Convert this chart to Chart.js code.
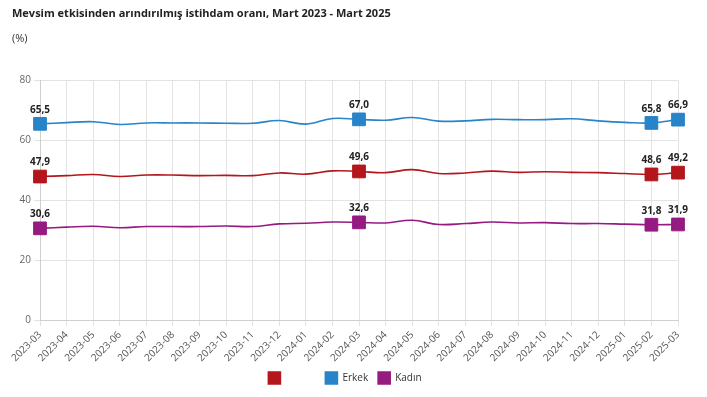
<!DOCTYPE html>
<html lang="tr">
<head>
<meta charset="utf-8">
<title>Mevsim etkisinden arındırılmış istihdam oranı</title>
<script src="https://cdn.jsdelivr.net/npm/chart.js@4.4.1/dist/chart.umd.min.js"></script>
<style>
  html, body { margin: 0; padding: 0; background: #fff; }
  #wrap { width: 707px; height: 397px; position: relative; }
</style>
</head>
<body>
<div id="wrap"><canvas id="istihdamChart"></canvas></div>
<script>
// ===== DATA =====
const months = [
  "2023-03", "2023-04", "2023-05", "2023-06", "2023-07", "2023-08", "2023-09",
  "2023-10", "2023-11", "2023-12", "2024-01", "2024-02", "2024-03", "2024-04",
  "2024-05", "2024-06", "2024-07", "2024-08", "2024-09", "2024-10", "2024-11",
  "2024-12", "2025-01", "2025-02", "2025-03"
];
const toplam = [47.9, 48.2, 48.6, 47.9, 48.4, 48.4, 48.2, 48.3, 48.2, 49.1, 48.7, 49.8, 49.6,
                49.2, 50.2, 48.9, 49.1, 49.7, 49.3, 49.5, 49.3, 49.2, 48.9, 48.6, 49.2];
const erkek = [65.5, 65.9, 66.2, 65.3, 65.8, 65.8, 65.8, 65.7, 65.7, 66.6, 65.4, 67.3, 67.0,
               66.7, 67.6, 66.4, 66.5, 67.0, 66.9, 66.9, 67.2, 66.5, 66.0, 65.8, 66.9];
const kadin = [30.6, 31.0, 31.3, 30.8, 31.2, 31.2, 31.2, 31.4, 31.2, 32.1, 32.3, 32.7, 32.6,
               32.4, 33.3, 31.9, 32.2, 32.7, 32.4, 32.5, 32.2, 32.2, 32.0, 31.8, 31.9];
const markedIdx = [0, 12, 23, 24];
const yTicks = [0, 20, 40, 60, 80];

const FONT = "'Open Sans', 'Noto Sans', sans-serif";

function fmt(v) {
  return v.toFixed(1).replace(".", ",");
}

function makeSet(label, data, color) {
  return {
    label: label,
    data: data,
    borderColor: color,
    backgroundColor: color,
    borderWidth: 1.6,
    tension: 0.4,
    pointStyle: "rect",
    pointRadius: ctx => markedIdx.includes(ctx.dataIndex) ? 9 : 0,
    pointHoverRadius: ctx => markedIdx.includes(ctx.dataIndex) ? 9 : 0,
    pointBorderWidth: 1,
    pointBorderColor: color,
    pointBackgroundColor: color
  };
}

// draws the value above each marked point
const valueLabels = {
  id: "valueLabels",
  afterDatasetsDraw(chart) {
    const c = chart.ctx;
    c.save();
    c.font = "bold 10px " + FONT;
    c.fillStyle = "#222";
    c.textAlign = "center";
    c.textBaseline = "bottom";
    chart.data.datasets.forEach((ds, di) => {
      const meta = chart.getDatasetMeta(di);
      markedIdx.forEach(i => {
        const pt = meta.data[i];
        if (!pt) return;
        c.fillText(fmt(ds.data[i]), pt.x, pt.y - 9);
      });
    });
    c.restore();
  }
};

const ctx = document.getElementById("istihdamChart");

new Chart(ctx, {
  type: "line",
  data: {
    labels: months,
    datasets: [
      makeSet("Toplam", toplam, "#B3161B"),
      makeSet("Erkek", erkek, "#2884C8"),
      makeSet("Kadın", kadin, "#951B81")
    ]
  },
  options: {
    responsive: true,
    maintainAspectRatio: false,
    animation: false,
    layout: { padding: { left: 12, right: 29, top: 7, bottom: 3 } },
    plugins: {
      title: {
        display: true,
        text: "Mevsim etkisinden arındırılmış istihdam oranı, Mart 2023 - Mart 2025",
        align: "start",
        color: "#222",
        font: { family: FONT, size: 11, weight: "bold" },
        padding: { top: 0, bottom: 12 }
      },
      subtitle: {
        display: true,
        text: "(%)",
        align: "start",
        color: "#333",
        font: { family: FONT, size: 11 },
        padding: { top: 0, bottom: 35 }
      },
      legend: {
        position: "bottom",
        labels: {
          boxWidth: 12,
          boxHeight: 12,
          color: "#333",
          font: { family: FONT, size: 10 },
          generateLabels(chart) {
            const items = Chart.defaults.plugins.legend.labels.generateLabels(chart);
            // first series has no visible caption in the original
            items[0].text = "\u2003\u2003\u2003";
            return items;
          }
        }
      },
      tooltip: { enabled: false }
    },
    scales: {
      x: {
        grid: { color: "#e3e3e3", tickLength: 6 },
        border: { color: "#cfcfcf" },
        ticks: {
          color: "#555",
          font: { family: FONT, size: 10 },
          minRotation: 45,
          maxRotation: 45,
          autoSkip: false
        },
        afterFit(scale) { scale.height = 42; }
      },
      y: {
        min: 0,
        max: 80,
        afterBuildTicks(scale) { scale.ticks = yTicks.map(v => ({ value: v })); },
        grid: { color: "#e3e3e3", tickLength: 6 },
        border: { color: "#cfcfcf" },
        ticks: {
          color: "#666",
          padding: 3,
          font: { family: FONT, size: 10 }
        },
        afterFit(scale) { scale.width = 28; }
      }
    }
  },
  plugins: [valueLabels]
});
</script>
</body>
</html>
